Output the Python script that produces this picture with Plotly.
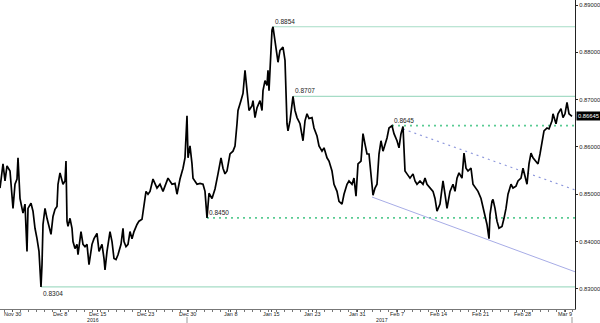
import plotly.graph_objects as go

# ---- data (bar index along time axis, price) ----
bars = [0,3,5,7,10,12,13,15,17,18,19,20,22,23,25,27,28,31,33,35,37,39,41,42,43,45,47,49,51,53,55,57,58,60,62,63,65,66,67,68,70,72,73,75,77,78,81,83,85,87,89,92,94,97,99,102,104,105,107,110,112,114,116,118,121,123,124,126,128,130,132,134,137,139,142,144,146,148,
        150,153,157,160,163,168,172,175,177,180,183,185,187,188,190,192,193,197,200,203,205,207,209,212,215,218,221,223,225,227,230,233,235,237,238,241,243,245,247,249,252,253,255,257,260,262,263,265,267,268,269,271,272,273,275,277,278,280,283,285,286,287,288,290,293,295,297,
        300,303,305,307,309,312,314,317,319,322,324,327,329,332,334,337,339,342,344,347,349,352,354,356,358,361,363,365,367,369,371,373,375,377,379,381,383,385,387,389,392,394,397,399,401,403,404,405,407,410,413,415,417,420,423,425,427,430,433,435,437,
        440,443,445,447,450,453,455,457,459,462,464,466,468,471,473,476,478,481,483,485,487,489,490,492,493,495,497,499,502,504,506,508,511,513,516,518,521,523,525,527,529,531,533,536,538,540,542,544,547,549,552,553,556,558,561,563,565,567,569,572]

prices = [0.8513,0.8564,0.8528,0.8560,0.8549,0.8491,0.8470,0.8521,0.8532,0.8577,0.8528,0.8491,0.8470,0.8460,0.8479,0.8379,0.8470,0.8481,0.8464,0.8428,0.8406,0.8379,0.8304,0.8351,0.8436,0.8470,0.8449,0.8428,0.8415,0.8453,0.8468,0.8474,0.8521,0.8545,0.8528,0.8521,0.8528,0.8570,0.8443,0.8432,0.8449,0.8428,0.8400,0.8385,0.8394,0.8372,0.8421,0.8394,0.8389,0.8394,0.8351,0.8394,0.8406,0.8417,0.8379,0.8394,0.8364,0.8340,0.8379,0.8421,0.8400,0.8364,0.8362,0.8372,0.8394,0.8428,0.8400,0.8389,0.8394,0.8421,0.8406,0.8421,0.8436,0.8443,0.8447,0.8479,0.8506,0.8500,
          0.8506,0.8532,0.8513,0.8521,0.8506,0.8534,0.8521,0.8523,0.8500,0.8532,0.8555,0.8577,0.8666,0.8577,0.8602,0.8564,0.8534,0.8521,0.8523,0.8521,0.8506,0.8450,0.8502,0.8491,0.8511,0.8543,0.8577,0.8555,0.8543,0.8549,0.8585,0.8591,0.8602,0.8649,0.8677,0.8698,0.8713,0.8762,0.8713,0.8677,0.8687,0.8698,0.8662,0.8683,0.8698,0.8677,0.8719,0.8740,0.8730,0.8762,0.8719,0.8789,0.8847,0.8854,0.8826,0.8789,0.8779,0.8804,0.8811,0.8783,0.8704,0.8649,0.8634,0.8655,0.8707,0.8677,0.8662,
          0.8649,0.8613,0.8655,0.8670,0.8660,0.8662,0.8640,0.8623,0.8602,0.8591,0.8598,0.8577,0.8570,0.8549,0.8521,0.8506,0.8485,0.8479,0.8500,0.8521,0.8528,0.8521,0.8534,0.8496,0.8564,0.8570,0.8628,0.8606,0.8585,0.8585,0.8534,0.8498,0.8513,0.8521,0.8585,0.8613,0.8591,0.8606,0.8619,0.8640,0.8645,0.8628,0.8613,0.8598,0.8628,0.8643,0.8598,0.8549,0.8543,0.8534,0.8543,0.8528,0.8521,0.8528,0.8521,0.8534,0.8521,0.8513,0.8506,0.8491,0.8464,
          0.8479,0.8528,0.8500,0.8470,0.8506,0.8521,0.8506,0.8534,0.8545,0.8534,0.8587,0.8555,0.8549,0.8555,0.8521,0.8513,0.8506,0.8491,0.8470,0.8449,0.8436,0.8406,0.8457,0.8485,0.8489,0.8470,0.8443,0.8428,0.8432,0.8449,0.8470,0.8500,0.8521,0.8513,0.8517,0.8528,0.8534,0.8555,0.8534,0.8521,0.8564,0.8587,0.8577,0.8570,0.8564,0.8585,0.8613,0.8634,0.8640,0.8638,0.8655,0.8670,0.8649,0.8670,0.8681,0.8662,0.8670,0.8694,0.8670,0.86645]

last_price = 0.86645
x_end = 575

# x tick labels (bar index positions)
tick_pos = [12, 60, 97, 145, 187, 230, 271, 312, 357, 397, 438, 480, 522, 565]
tick_lbl = ["Nov 30", "Dec 8", "Dec 15", "Dec 23", "Dec 30", "Jan 8", "Jan 15",
            "Jan 23", "Jan 31", "Feb 7", "Feb 14", "Feb 21", "Feb 28", "Mar 9"]
year_pos = [93, 382]
year_lbl = ["2016", "2017"]
year_sep = [187, 572]

y_ticks = [0.83, 0.84, 0.85, 0.86, 0.87, 0.88, 0.89]
y_lbl = ["0.83000", "0.84000", "0.85000", "0.86000", "0.87000", "0.88000", "0.89000"]

# horizontal levels
levels = [0.8854, 0.8707, 0.8645, 0.8450, 0.8304]
level_start = [273, 293, 392, 207, 41]
level_dotted = [False, False, True, True, False]
level_label_below = [False, False, False, False, True]

# trend lines
trend_support = dict(x=[372, x_end], y=[0.8494, 0.8336])
trend_resist = dict(x=[403, x_end], y=[0.8638, 0.8509])

FONT = "Liberation Sans"
PLOT_H = 309
fig = go.Figure()

solid_lvl = "#a6dcc6"
dot_lvl = "#5acb93"
lav = "#a7ace6"

for lv, st, dt in zip(levels, level_start, level_dotted):
    fig.add_trace(go.Scatter(
        x=[st, x_end], y=[lv, lv], mode="lines", hoverinfo="skip",
        line=dict(color=dot_lvl if dt else solid_lvl, width=1.6 if dt else 1.2,
                  dash="2px,4px" if dt else "solid")))

fig.add_trace(go.Scatter(x=trend_support["x"], y=trend_support["y"], mode="lines",
                         line=dict(color=lav, width=1)))
fig.add_trace(go.Scatter(x=trend_resist["x"], y=trend_resist["y"], mode="lines",
                         line=dict(color="#8e98dc", width=1.2, dash="2px,4px")))

fig.add_trace(go.Scatter(x=bars, y=prices, mode="lines",
                         line=dict(color="black", width=1.7)))

ann = []
for lv, st, below in zip(levels, level_start, level_label_below):
    ann.append(dict(x=st, y=lv, xref="x", yref="y", text=f"{lv:.4f}",
                    showarrow=False, xanchor="left",
                    yanchor="top" if below else "bottom",
                    yshift=-1 if below else 0,
                    font=dict(family=FONT, size=6.5, color="#222")))
ann.append(dict(x=x_end, y=last_price, xref="x", yref="y", text=f"{last_price:.5f}",
                showarrow=False, xanchor="left", xshift=1, bgcolor="black",
                borderpad=1, font=dict(family=FONT, size=5.8, color="white")))
for xp, tl in zip(tick_pos, tick_lbl):
    ann.append(dict(x=xp, y=0, xref="x", yref="paper", text=tl, showarrow=False,
                    xanchor="center", yanchor="top", yshift=-1, borderpad=0,
                    font=dict(family=FONT, size=5.5, color="#222")))
for xp, tl in zip(year_pos, year_lbl):
    ann.append(dict(x=xp, y=0, xref="x", yref="paper", text=tl, showarrow=False,
                    xanchor="center", yanchor="top", yshift=-6.5, borderpad=0,
                    font=dict(family=FONT, size=5.2, color="#222")))

shapes = []
for xs in year_sep:
    shapes.append(dict(type="line", xref="x", yref="paper", x0=xs, x1=xs,
                       y0=-8 / PLOT_H, y1=-14 / PLOT_H, line=dict(color="#999", width=1)))

fig.update_layout(
    template="none",
    width=600, height=323,
    margin=dict(l=0, r=25, t=0, b=323 - PLOT_H),
    paper_bgcolor="white", plot_bgcolor="white",
    showlegend=False,
    annotations=ann, shapes=shapes,
    xaxis=dict(range=[0, x_end], showgrid=False, zeroline=False,
               showline=True, linecolor="#777", linewidth=1,
               tickmode="array", tickvals=tick_pos, showticklabels=False,
               ticks="outside", ticklen=2, tickcolor="#555",
               minor=dict(dtick=8, tick0=4, ticks="outside", ticklen=2, tickcolor="#777"),
               automargin=False, fixedrange=True),
    yaxis=dict(range=[0.82573, 0.89106], side="right", showgrid=False, zeroline=False,
               showline=True, linecolor="#222", linewidth=1,
               tickmode="array", tickvals=y_ticks, ticktext=y_lbl,
               ticks="outside", ticklen=2, tickcolor="#222",
               tickfont=dict(family=FONT, size=5.8, color="#222"),
               automargin=False, fixedrange=True),
)

fig.write_html("out.html")
